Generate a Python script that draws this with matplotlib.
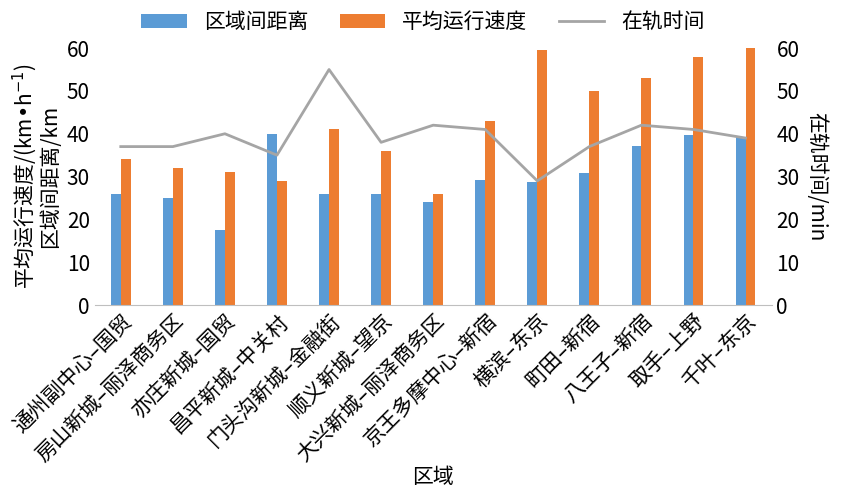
import matplotlib.pyplot as plt
from matplotlib import font_manager
import numpy as np

# locate a CJK font file explicitly so the glyphs are available
cjk_name = None
for path in font_manager.findSystemFonts():
    if 'NotoSansCJK' in path.replace(' ', '') or 'NotoSerifCJK' in path.replace(' ', ''):
        try:
            font_manager.fontManager.addfont(path)
            cjk_name = font_manager.FontProperties(fname=path).get_name()
            if 'SC' in path or 'SC' in cjk_name:
                break
        except Exception:
            pass
plt.rcParams['font.family'] = [cjk_name or 'Noto Sans CJK SC', 'Noto Sans CJK JP', 'DejaVu Sans']

regions = ['通州副中心–国贸', '房山新城–丽泽商务区', '亦庄新城–国贸', '昌平新城–中关村',
           '门头沟新城–金融街', '顺义新城–望京', '大兴新城–丽泽商务区', '京王多摩中心–新宿',
           '横滨–东京', '町田–新宿', '八王子–新宿', '取手–上野', '千叶–东京']
distance = [26, 25, 17.5, 40, 26, 26, 24, 29.2, 28.7, 30.8, 37.1, 39.7, 39.2]
speed = [34, 32, 31, 29, 41, 36, 26, 43, 59.5, 50, 53, 58, 60]
rail_time = [37, 37, 40, 35, 55, 38, 42, 41, 29, 37, 42, 41, 39]

blue = '#5b9bd5'
orange = '#ed7d31'
grey = '#a5a5a5'

fig = plt.figure(figsize=(8.46, 4.96), dpi=100)
ax = fig.add_axes([0.112, 0.385, 0.80, 0.518])
x = np.arange(len(regions))
w = 0.19
b1 = ax.bar(x - w / 2, distance, w, color=blue, label='区域间距离')
b2 = ax.bar(x + w / 2, speed, w, color=orange, label='平均运行速度')
ax.set_ylim(0, 60)
ax.set_yticks(range(0, 61, 10))
ax.set_xlim(-0.5, len(regions) - 0.5)
ax.set_xticks(x)
ax.set_xticklabels(regions, rotation=45, ha='right', rotation_mode='anchor', fontsize=15)
ax.tick_params(axis='y', labelsize=15, length=0)
ax.tick_params(axis='x', length=0)
ax.set_ylabel('平均运行速度/(km•h$^{-1}$)\n区域间距离/km', fontsize=15, linespacing=1.0)
ax.set_xlabel('区域', fontsize=15, labelpad=0)
for s in ['top', 'right', 'left']:
    ax.spines[s].set_visible(False)
ax.spines['bottom'].set_color('#bfbfbf')

ax2 = ax.twinx()
l1, = ax2.plot(x, rail_time, color=grey, lw=2, label='在轨时间')
ax2.set_ylim(0, 60)
ax2.set_yticks(range(0, 61, 10))
ax2.tick_params(axis='y', labelsize=15, length=0)
ax2.set_ylabel('在轨时间/min', fontsize=15, rotation=270, labelpad=20)
for s in ['top', 'right', 'left', 'bottom']:
    ax2.spines[s].set_visible(False)

fig.legend(handles=[b1, b2, l1], loc='upper center', bbox_to_anchor=(0.5, 1.015),
           ncol=3, frameon=False, fontsize=15, handlelength=2.2, columnspacing=1.5)

fig.savefig('out.png', dpi=100)
